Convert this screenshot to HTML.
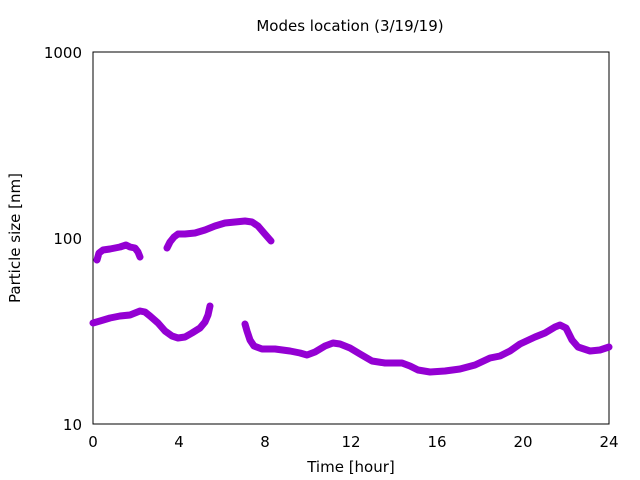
<!DOCTYPE html>
<html><head><style>body{margin:0;background:#fff}svg{display:block}text{font-family:"DejaVu Sans","Liberation Sans",sans-serif;font-size:15px;fill:#000}</style></head>
<body>
<svg width="640" height="480" xmlns="http://www.w3.org/2000/svg">
<rect x="93" y="52" width="516" height="372" fill="none" stroke="#000" stroke-width="1"/>
<g stroke="#000" stroke-width="1" id="ticks"></g>
<text x="350" y="31" text-anchor="middle">Modes location (3/19/19)</text>
<text x="82" y="58" text-anchor="end">1000</text>
<text x="82" y="244" text-anchor="end">100</text>
<text x="82" y="430" text-anchor="end">10</text>
<g text-anchor="middle">
<text x="93" y="447">0</text><text x="179" y="447">4</text><text x="265" y="447">8</text><text x="351" y="447">12</text><text x="437" y="447">16</text><text x="523" y="447">20</text><text x="609" y="447">24</text>
</g>
<text x="351" y="472" text-anchor="middle">Time [hour]</text>
<text transform="translate(20,238) rotate(-90)" text-anchor="middle">Particle size [nm]</text>
<g fill="none" stroke="#9400d3" stroke-width="7" stroke-linejoin="round" stroke-linecap="round">
<polyline points="97,260 99,253 103,250 110,249 120,247 126,245 130,247 135,248 138,252 140,257"/>
<polyline points="167,248 170,242 174,237 178,234 185,234 195,233 205,230 215,226 225,223 235,222 245,221 252,222 258,226 264,233 271,241"/>
<polyline points="93,323 100,321 110,318 120,316 130,315 140,311 145,312 150,316 158,323 165,331 172,336 178,338 185,337 192,333 200,328 205,322 208,315 210,306"/>
<polyline points="245,324 247,331 250,340 254,346 262,349 275,349 290,351 300,353 307,355 315,352 325,346 333,343 340,344 350,348 360,354 372,361 385,363 402,363 410,366 418,370 430,372 445,371 460,369 475,365 490,358 500,356 510,351 520,344 535,337 545,333 555,327 560,325 566,328 572,340 578,347 590,351 600,350 609,347"/>
</g>
<script>
var g=document.getElementById('ticks'),s='';
for(var i=0;i<=12;i++){var x=93+i*43;var L=7;s+='<line x1="'+x+'" y1="424" x2="'+x+'" y2="'+(424-L)+'"/><line x1="'+x+'" y1="52" x2="'+x+'" y2="'+(52+L)+'"/>';}
for(var d=0;d<2;d++)for(var k=1;k<=10;k++){if(d==1&&k==10)continue;var y=424-(d+Math.log10(k))*186;var L=(k==1||k==10)?7:4;s+='<line x1="93" y1="'+y+'" x2="'+(93+L)+'" y2="'+y+'"/><line x1="609" y1="'+y+'" x2="'+(609-L)+'" y2="'+y+'"/>';}
g.innerHTML=s;
</script>
</svg>
</body></html>
